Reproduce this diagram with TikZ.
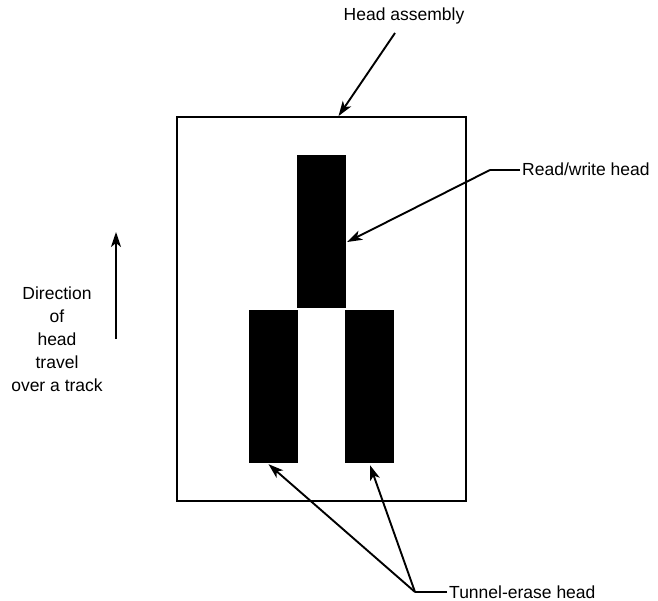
\documentclass[tikz,border=0pt]{standalone}
\usepackage{fontspec}
\setmainfont{Liberation Sans}
\usepackage{tikz}
\usetikzlibrary{positioning,arrows.meta,calc}

\begin{document}
\begin{tikzpicture}[x=1pt,y=-1pt,
        font=\fontsize{17.5}{23}\selectfont,
        headblock/.style={fill=black,draw=none,minimum width=49pt,minimum height=153pt,inner sep=0pt},
        lbl/.style={inner sep=2pt,text height=12pt,text depth=0pt},
        ptr/.style={line width=1.9pt,-{Stealth[length=15pt,width=10pt,inset=4pt]}}]
            \useasboundingbox (0,0) rectangle (658,601);
            % Carcaca da cabeca
            \node[draw,line width=1.8pt,minimum width=289pt,minimum height=384pt,inner sep=0pt] (box) at (321.5,309) {};
            \node[headblock] (rwhead) at (321.5,231.5) {};
            \node[headblock] (eraseL) at (273.5,386.5) {};
            \node[headblock] (eraseR) at (369.5,386.5) {};
            % Rotulos
            \node[lbl,anchor=base] (lblAssembly) at (404,21) {Head assembly};
            \node[lbl,anchor=west] (lblRW) at (520,170) {Read/write head};
            \node[lbl,anchor=west] (lblErase) at (447,592) {Tunnel-erase head};
            \node[align=center] (lblDir) at (57,339) {Direction\\of\\head\\travel\\over a track};
            % Setas
            \coordinate (asmStart) at (395,33);
            \draw[ptr] (asmStart) -- ($(box.north)+(17,0)$);
            \draw[line width=1.9pt] (lblRW.west) -- ++(-30,0) coordinate (rwKnee);
            \draw[ptr] (rwKnee) -- ($(rwhead.east)+(1,10.5)$);
            \draw[line width=1.9pt] (lblErase.west) -- ++(-32,0) coordinate (eraseKnee);
            \draw[ptr] (eraseKnee) -- ($(eraseL.south)+(-5,1)$);
            \draw[ptr] (eraseKnee) -- ($(eraseR.south)+(0.5,2)$);
            \coordinate (dirTail) at (116,339);
            \coordinate (dirTip) at (116,232);
            \draw[ptr] (dirTail) -- (dirTip);
\end{tikzpicture}
\end{document}
